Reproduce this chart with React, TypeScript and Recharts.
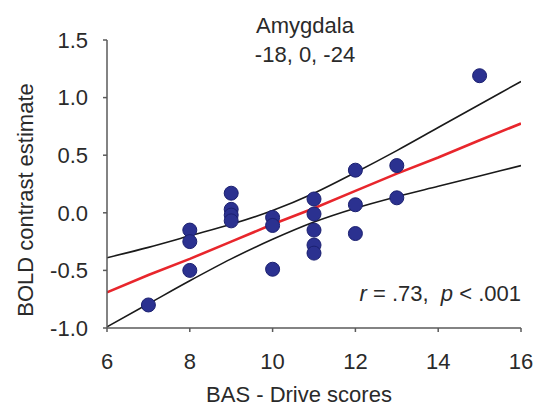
import React from 'react';
import { ComposedChart, Line, Scatter, XAxis, YAxis } from 'recharts';

// subject scores (x) and amygdala BOLD estimates (y)
const pointX = [7, 8, 8, 8, 9, 9, 9, 9, 10, 10, 10, 11, 11, 11, 11, 11, 12, 12, 12, 13, 13, 15];
const pointY = [
  -0.8, -0.15, -0.25, -0.5, 0.17, 0.03, -0.02, -0.07, -0.04, -0.11, -0.49, 0.12, -0.01, -0.15, -0.28, -0.35,
  0.37, 0.07, -0.18, 0.41, 0.13, 1.19,
];

// regression fit and confidence band, read at integer x
const fitX = [6, 7, 8, 9, 10, 11, 12, 13, 14, 15, 16];
const fitY = [-0.69, -0.54, -0.4, -0.25, -0.1, 0.04, 0.19, 0.34, 0.48, 0.63, 0.775];
const upperY = [-0.39, -0.3, -0.2, -0.1, 0.02, 0.17, 0.35, 0.54, 0.74, 0.94, 1.14];
const lowerY = [-0.99, -0.79, -0.59, -0.4, -0.23, -0.08, 0.04, 0.14, 0.23, 0.32, 0.41];

const xTicks = [6, 8, 10, 12, 14, 16];
const yTicks = [-1, -0.5, 0, 0.5, 1, 1.5];

const points = pointX.map((x, i) => ({ x, y: pointY[i] }));
const fitData = fitX.map((x, i) => ({ x, fit: fitY[i], upper: upperY[i], lower: lowerY[i] }));

const font = '"Liberation Sans", Arial, sans-serif';
const axisColor = '#5a5a5a';
const tickStyle = { fontSize: 22, fill: '#2a2a2a', fontFamily: font };

export default function App() {
  return (
    <div style={{ position: 'absolute', left: 0, top: 0, width: 534, height: 408, background: '#fff' }}>
      <ComposedChart width={534} height={408} data={fitData} margin={{ top: 40, right: 13, bottom: 0, left: 0 }}>
        <XAxis
          dataKey="x"
          type="number"
          domain={[6, 16]}
          ticks={xTicks}
          allowDataOverflow
          height={80}
          stroke={axisColor}
          strokeWidth={1.5}
          tickSize={4}
          tickMargin={21}
          tick={tickStyle}
        />
        <YAxis
          type="number"
          domain={[-1, 1.5]}
          ticks={yTicks}
          allowDataOverflow
          width={107}
          stroke={axisColor}
          strokeWidth={1.5}
          tickSize={4}
          tickMargin={15}
          tick={tickStyle}
          tickFormatter={(v: number) => v.toFixed(1)}
        />
        <Line type="monotone" dataKey="upper" stroke="#1a1a1a" strokeWidth={1.6} dot={false} isAnimationActive={false} />
        <Line type="monotone" dataKey="lower" stroke="#1a1a1a" strokeWidth={1.6} dot={false} isAnimationActive={false} />
        <Line type="linear" dataKey="fit" stroke="#e8262c" strokeWidth={2.6} dot={false} isAnimationActive={false} />
        <Scatter
          data={points}
          dataKey="y"
          fill="#2b3190"
          stroke="#1b2070"
          strokeWidth={1}
          shape={(p: any) => <circle cx={p.cx} cy={p.cy} r={7} fill="#2b3190" stroke="#1b2070" strokeWidth={1} />}
          isAnimationActive={false}
        />
      </ComposedChart>
      <svg width={534} height={408} style={{ position: 'absolute', left: 0, top: 0, pointerEvents: 'none' }}>
        <g fontFamily={font} fontSize={22} fill="#2a2a2a">
          <text x={305} y={33} textAnchor="middle">Amygdala</text>
          <text x={305} y={62} textAnchor="middle">-18, 0, -24</text>
          <text x={521} y={301} textAnchor="end">
            <tspan fontStyle="italic">r</tspan> = .73,{'\u00a0\u00a0'}<tspan fontStyle="italic">p</tspan> &lt; .001
          </text>
          <text x={299} y={402} textAnchor="middle">BAS - Drive scores</text>
          <text transform="translate(33, 200) rotate(-90)" textAnchor="middle">BOLD contrast estimate</text>
        </g>
      </svg>
    </div>
  );
}
